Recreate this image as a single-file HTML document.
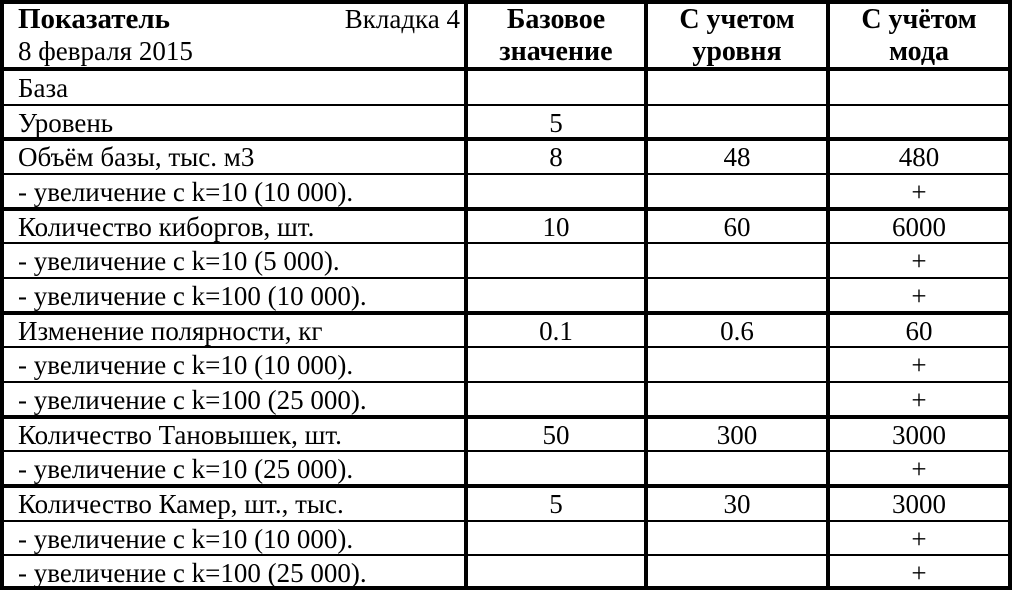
<!DOCTYPE html>
<html><head><meta charset="utf-8"><style>
body{margin:0;background:#fff;}
#w{position:relative;width:1012px;height:590px;overflow:hidden;font-family:"Liberation Serif","Times New Roman","Noto Serif CJK SC","DejaVu Serif",serif;font-size:27px;color:#000;}
.h{position:absolute;left:0;width:1012px;background:#000;height:1.5px;}
.k{height:4px;}
.v{position:absolute;top:0;height:590px;width:4px;background:#000;}
.r{position:absolute;left:0;width:1012px;height:34px;line-height:34px;white-space:nowrap;}
.r span{position:absolute;top:1px;}
.r span.a{left:18px;}
.r span.b1{left:468px;width:176px;text-align:center;}
.r span.b2{left:648px;width:178px;text-align:center;}
.r span.b3{left:830px;width:178px;text-align:center;}
.t{position:absolute;white-space:nowrap;line-height:32px;}
.c{position:absolute;text-align:center;white-space:nowrap;line-height:32px;font-size:28px;}
.b{font-weight:bold;}
</style></head><body><div id="w">
<div class="v" style="left:0"></div>
<div class="v" style="left:464px"></div>
<div class="v" style="left:644px"></div>
<div class="v" style="left:826px"></div>
<div class="v" style="left:1008px"></div>
<div class="h k" style="top:0"></div>
<div class="h k" style="top:67px"></div>
<div class="h k" style="top:586px"></div>
<div class="h" style="top:104px"></div>
<div class="h k" style="top:137px"></div>
<div class="h" style="top:173px"></div>
<div class="h k" style="top:207px"></div>
<div class="h" style="top:242px"></div>
<div class="h" style="top:277px"></div>
<div class="h k" style="top:311px"></div>
<div class="h" style="top:346px"></div>
<div class="h" style="top:381px"></div>
<div class="h k" style="top:415px"></div>
<div class="h" style="top:450px"></div>
<div class="h k" style="top:484px"></div>
<div class="h" style="top:520px"></div>
<div class="h" style="top:554px"></div>

<div class="r" style="top:70px"><span class="a">База</span></div>
<div class="r" style="top:105px"><span class="a">Уровень</span><span class="b1">5</span></div>
<div class="r" style="top:139px"><span class="a">Объём базы, тыс. м3</span><span class="b1">8</span><span class="b2">48</span><span class="b3">480</span></div>
<div class="r" style="top:174px"><span class="a">- увеличение с k=10 (10 000).</span><span class="b3">+</span></div>
<div class="r" style="top:209px"><span class="a">Количество киборгов, шт.</span><span class="b1">10</span><span class="b2">60</span><span class="b3">6000</span></div>
<div class="r" style="top:243px"><span class="a">- увеличение с k=10 (5 000).</span><span class="b3">+</span></div>
<div class="r" style="top:278px"><span class="a">- увеличение с k=100 (10 000).</span><span class="b3">+</span></div>
<div class="r" style="top:313px"><span class="a">Изменение полярности, кг</span><span class="b1">0.1</span><span class="b2">0.6</span><span class="b3">60</span></div>
<div class="r" style="top:347px"><span class="a">- увеличение с k=10 (10 000).</span><span class="b3">+</span></div>
<div class="r" style="top:382px"><span class="a">- увеличение с k=100 (25 000).</span><span class="b3">+</span></div>
<div class="r" style="top:417px"><span class="a">Количество Тановышек, шт.</span><span class="b1">50</span><span class="b2">300</span><span class="b3">3000</span></div>
<div class="r" style="top:451px"><span class="a">- увеличение с k=10 (25 000).</span><span class="b3">+</span></div>
<div class="r" style="top:486px"><span class="a">Количество Камер, шт., тыс.</span><span class="b1">5</span><span class="b2">30</span><span class="b3">3000</span></div>
<div class="r" style="top:521px"><span class="a">- увеличение с k=10 (10 000).</span><span class="b3">+</span></div>
<div class="r" style="top:555px"><span class="a">- увеличение с k=100 (25 000).</span><span class="b3">+</span></div>

<div class="t b" style="left:18px;top:3px;font-size:29px">Показатель</div>
<div class="t" style="right:552px;top:3px">Вкладка 4</div>
<div class="t" style="left:18px;top:35px">8 февраля 2015</div>
<div class="c b" style="left:468px;width:176px;top:4px">Базовое</div>
<div class="c b" style="left:468px;width:176px;top:36px">значение</div>
<div class="c b" style="left:648px;width:178px;top:4px">С учетом</div>
<div class="c b" style="left:648px;width:178px;top:36px">уровня</div>
<div class="c b" style="left:830px;width:178px;top:4px">С учётом</div>
<div class="c b" style="left:830px;width:178px;top:36px">мода</div>
</div>
</body></html>
